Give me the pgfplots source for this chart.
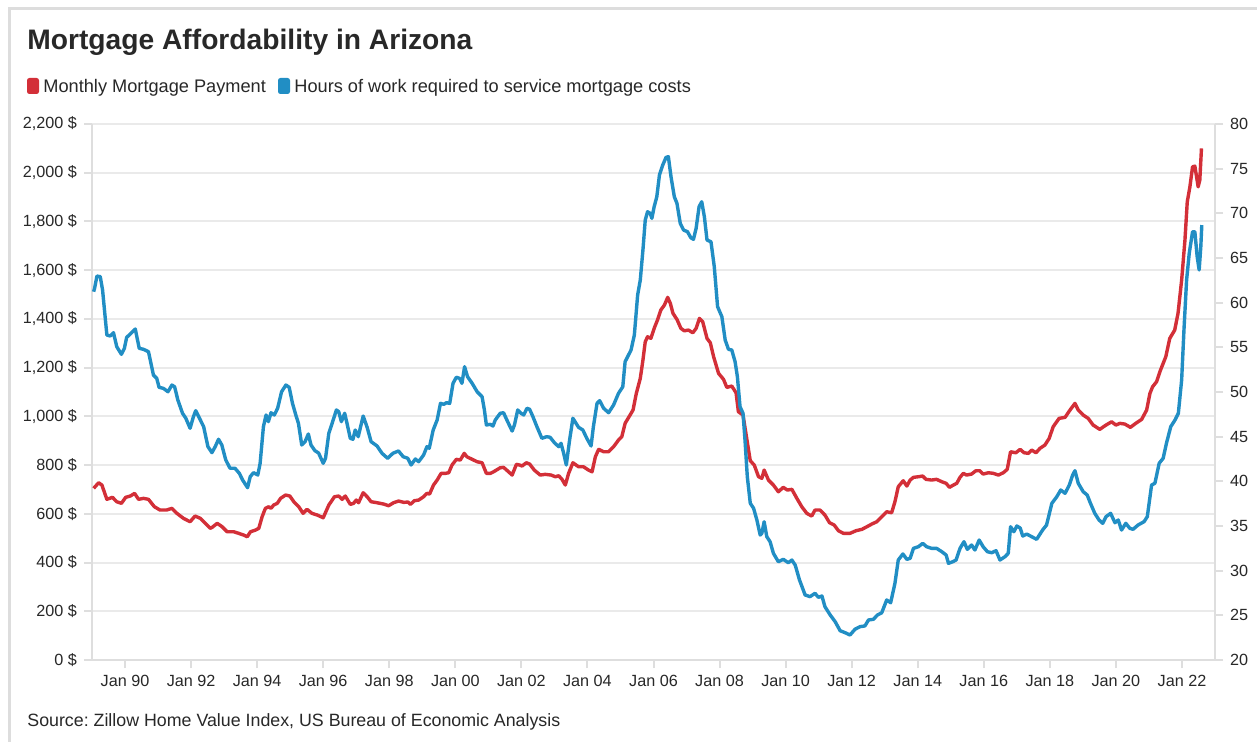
\documentclass[border=0pt]{standalone}
\usepackage{fontspec}
\setmainfont{Liberation Sans}
\usepackage{pgfplots}
\usepackage{pgfplotstable}
\pgfplotsset{compat=1.18}
\frenchspacing
\definecolor{cred}{RGB}{211,47,56}
\definecolor{cblue}{RGB}{33,142,196}
\definecolor{gridc}{RGB}{234,234,234}
\definecolor{axc}{RGB}{222,222,222}
\definecolor{txt}{RGB}{40,40,40}
\definecolor{frame}{RGB}{221,221,221}

% Monthly mortgage payment (USD)
\pgfplotstableread{
yr val
1989.05 704.6
1989.20 727.5
1989.30 718.1
1989.45 659.4
1989.62 667.6
1989.75 649.6
1989.89 643.0
1990.02 667.6
1990.16 673.0
1990.29 684.0
1990.41 659.4
1990.56 663.5
1990.71 659.4
1990.89 629.0
1991.06 615.5
1991.26 615.5
1991.42 622.5
1991.57 602.0
1991.77 581.4
1991.97 567.5
1992.12 590.9
1992.28 581.4
1992.43 560.9
1992.58 540.4
1992.64 544.5
1992.79 560.9
1992.94 547.0
1993.09 526.5
1993.29 526.5
1993.44 519.9
1993.59 512.9
1993.70 506.0
1993.80 526.5
1993.95 533.4
1994.05 540.4
1994.15 588.0
1994.25 622.5
1994.35 629.0
1994.42 622.5
1994.50 636.0
1994.61 643.0
1994.71 663.5
1994.86 677.1
1994.99 673.0
1995.11 649.6
1995.26 629.0
1995.39 602.0
1995.51 618.4
1995.66 602.0
1995.82 595.0
1996.00 583.9
1996.17 636.0
1996.34 670.1
1996.47 673.0
1996.57 659.4
1996.67 673.0
1996.82 638.9
1996.92 643.0
1997.00 656.5
1997.07 645.5
1997.21 686.5
1997.33 670.1
1997.45 649.6
1997.63 645.5
1997.83 640.1
1997.98 633.2
1998.13 645.5
1998.28 652.4
1998.44 647.1
1998.57 648.3
1998.64 638.9
1998.76 653.7
1998.89 656.5
1999.04 670.1
1999.14 684.0
1999.22 681.2
1999.34 718.1
1999.45 738.6
1999.57 766.1
1999.70 766.1
1999.80 768.6
1999.90 800.2
2000.03 823.6
2000.15 820.7
2000.27 848.2
2000.35 834.2
2000.51 823.6
2000.66 813.7
2000.81 809.6
2000.94 766.1
2001.06 766.1
2001.16 772.7
2001.36 789.1
2001.46 790.7
2001.61 772.7
2001.72 759.1
2001.85 803.1
2001.95 800.2
2002.02 796.1
2002.15 809.6
2002.25 804.3
2002.39 779.6
2002.57 759.1
2002.72 762.0
2002.90 759.1
2003.03 752.2
2003.13 756.3
2003.23 741.5
2003.33 718.1
2003.43 766.1
2003.56 809.6
2003.73 793.2
2003.88 793.2
2004.03 779.6
2004.14 772.7
2004.24 834.2
2004.34 864.6
2004.49 854.7
2004.64 854.7
2004.79 875.3
2004.94 902.7
2005.04 916.3
2005.14 971.3
2005.29 1005.3
2005.38 1025.9
2005.48 1094.4
2005.60 1155.9
2005.68 1231.0
2005.75 1306.1
2005.82 1326.6
2005.92 1320.1
2006.02 1361.1
2006.12 1395.2
2006.22 1436.2
2006.33 1456.7
2006.43 1488.3
2006.51 1463.7
2006.59 1422.6
2006.71 1398.0
2006.83 1361.1
2006.93 1351.3
2007.06 1354.1
2007.19 1343.0
2007.29 1361.1
2007.39 1402.1
2007.49 1388.2
2007.62 1320.1
2007.72 1302.0
2007.82 1244.6
2007.97 1176.4
2008.12 1151.8
2008.22 1119.0
2008.37 1124.3
2008.50 1096.8
2008.57 1018.9
2008.71 1005.3
2008.83 902.7
2008.93 817.8
2009.05 800.2
2009.18 752.2
2009.28 745.6
2009.35 779.6
2009.48 738.6
2009.63 718.1
2009.78 690.6
2009.93 708.7
2010.05 697.6
2010.19 700.4
2010.34 663.5
2010.49 629.0
2010.64 602.0
2010.79 590.9
2010.89 615.5
2011.04 615.5
2011.19 595.0
2011.33 563.4
2011.47 554.0
2011.60 530.6
2011.75 519.9
2011.95 519.9
2012.13 530.6
2012.31 536.3
2012.46 547.0
2012.61 558.1
2012.76 567.5
2012.91 588.0
2013.06 608.5
2013.21 604.4
2013.31 649.6
2013.41 711.1
2013.56 735.7
2013.67 714.0
2013.77 738.6
2013.87 749.7
2014.02 752.2
2014.15 755.0
2014.25 741.5
2014.42 738.6
2014.57 741.5
2014.73 731.6
2014.86 725.1
2014.96 708.7
2015.08 718.1
2015.18 725.1
2015.28 749.7
2015.38 766.1
2015.48 759.1
2015.63 763.2
2015.76 776.8
2015.88 776.8
2015.98 763.2
2016.14 768.6
2016.29 766.1
2016.44 759.1
2016.59 768.6
2016.71 782.5
2016.81 854.7
2016.97 850.6
2017.10 864.6
2017.22 850.6
2017.35 848.2
2017.45 861.7
2017.58 850.6
2017.70 868.7
2017.85 882.2
2017.98 909.7
2018.10 957.3
2018.28 991.8
2018.46 995.9
2018.61 1025.9
2018.76 1053.3
2018.86 1025.9
2019.01 1005.3
2019.16 991.8
2019.31 964.3
2019.51 946.7
2019.70 964.3
2019.87 977.8
2020.00 964.3
2020.12 971.3
2020.27 968.4
2020.44 954.9
2020.60 971.3
2020.78 987.7
2020.93 1025.9
2021.03 1094.4
2021.11 1121.5
2021.23 1142.0
2021.35 1190.0
2021.51 1244.6
2021.63 1320.1
2021.78 1354.1
2021.88 1422.6
2021.99 1559.3
2022.09 1723.4
2022.16 1880.6
2022.24 1942.2
2022.32 2024.2
2022.39 2027.1
2022.49 1942.2
2022.54 1969.6
2022.59 2099.7
}\paymenttable

% Hours of work required to service mortgage costs
\pgfplotstableread{
yr val
1989.05 61.23
1989.08 61.64
1989.15 62.98
1989.25 62.91
1989.32 61.42
1989.45 56.38
1989.55 56.27
1989.65 56.64
1989.75 55.07
1989.89 54.22
1989.98 54.89
1990.05 56.12
1990.16 56.49
1990.31 57.05
1990.43 54.89
1990.56 54.78
1990.71 54.51
1990.86 51.90
1990.96 51.53
1991.03 50.53
1991.16 50.41
1991.30 50.03
1991.42 50.78
1991.50 50.59
1991.60 49.10
1991.74 47.62
1991.84 47.06
1991.97 45.94
1992.07 47.23
1992.14 47.91
1992.28 46.87
1992.38 46.12
1992.51 43.88
1992.63 43.21
1992.73 43.88
1992.83 44.71
1992.93 44.07
1993.05 42.39
1993.18 41.46
1993.33 41.46
1993.46 40.90
1993.56 40.15
1993.71 39.29
1993.79 40.52
1993.89 40.97
1994.02 40.71
1994.09 42.02
1994.19 46.12
1994.27 47.43
1994.34 46.68
1994.42 47.68
1994.52 47.43
1994.62 48.18
1994.74 50.03
1994.87 50.78
1994.97 50.53
1995.07 48.73
1995.17 47.43
1995.25 46.50
1995.35 44.07
1995.45 44.44
1995.55 45.30
1995.63 44.07
1995.75 43.43
1995.86 43.17
1996.00 42.02
1996.07 42.58
1996.17 45.38
1996.27 46.50
1996.40 47.99
1996.47 47.79
1996.55 46.68
1996.65 47.62
1996.72 46.50
1996.82 44.82
1996.90 44.71
1996.97 45.75
1997.06 45.00
1997.21 47.31
1997.33 46.05
1997.45 44.44
1997.63 43.96
1997.78 43.14
1997.95 42.58
1998.11 43.14
1998.28 43.40
1998.42 42.76
1998.56 42.58
1998.66 41.83
1998.79 42.50
1998.89 42.20
1999.04 42.95
1999.14 43.88
1999.21 43.70
1999.33 45.75
1999.45 46.87
1999.55 48.73
1999.65 48.62
1999.73 48.80
1999.83 48.73
1999.93 50.97
2000.03 51.65
2000.13 51.53
2000.20 50.97
2000.28 52.83
2000.37 51.71
2000.51 50.97
2000.66 50.03
2000.81 49.47
2000.88 47.99
2000.94 46.31
2001.06 46.38
2001.14 46.19
2001.21 46.87
2001.36 47.62
2001.46 47.68
2001.56 46.87
2001.72 45.63
2001.79 46.31
2001.89 47.99
2001.99 47.62
2002.07 47.43
2002.17 48.18
2002.25 48.06
2002.35 47.23
2002.47 46.12
2002.62 44.82
2002.77 45.00
2002.87 44.93
2003.00 44.32
2003.13 43.88
2003.20 44.26
2003.28 43.14
2003.36 41.83
2003.46 44.63
2003.56 47.06
2003.73 46.05
2003.86 45.75
2003.98 44.82
2004.11 43.96
2004.18 46.12
2004.29 48.73
2004.37 49.03
2004.49 48.18
2004.64 47.68
2004.79 48.54
2004.94 49.85
2005.07 50.59
2005.14 53.39
2005.32 54.70
2005.42 56.38
2005.52 60.86
2005.60 62.54
2005.68 65.90
2005.75 69.25
2005.82 70.18
2005.90 70.00
2005.95 69.44
2006.02 70.74
2006.10 71.86
2006.18 74.29
2006.28 75.41
2006.38 76.27
2006.45 76.34
2006.53 74.10
2006.63 71.86
2006.71 71.12
2006.81 68.88
2006.91 68.13
2007.03 67.94
2007.13 67.27
2007.21 67.09
2007.29 68.32
2007.38 70.74
2007.46 71.30
2007.54 69.62
2007.62 67.01
2007.74 66.82
2007.84 64.03
2007.94 59.55
2008.07 58.43
2008.17 55.82
2008.27 54.78
2008.37 54.70
2008.47 53.39
2008.54 51.71
2008.62 48.35
2008.71 47.62
2008.77 44.63
2008.84 40.52
2008.93 37.54
2009.03 36.98
2009.13 35.67
2009.23 33.99
2009.28 34.18
2009.35 35.48
2009.43 33.80
2009.53 33.24
2009.63 31.94
2009.78 31.00
2009.93 31.27
2010.08 30.89
2010.19 31.19
2010.29 30.63
2010.42 28.96
2010.59 27.28
2010.74 27.09
2010.89 27.47
2010.99 27.02
2011.10 27.16
2011.19 25.97
2011.35 25.04
2011.50 24.29
2011.65 23.28
2011.80 23.06
2011.95 22.80
2012.10 23.44
2012.25 23.73
2012.40 23.81
2012.51 24.48
2012.66 24.56
2012.78 25.04
2012.91 25.29
2013.06 26.72
2013.18 26.41
2013.31 28.59
2013.41 31.19
2013.55 31.87
2013.67 31.27
2013.77 31.38
2013.87 32.50
2014.02 32.68
2014.15 33.06
2014.27 32.68
2014.42 32.50
2014.57 32.50
2014.73 32.12
2014.86 31.75
2014.93 30.82
2015.06 31.00
2015.16 31.19
2015.28 32.50
2015.40 33.24
2015.50 32.39
2015.63 32.87
2015.73 32.31
2015.86 33.43
2015.98 32.68
2016.11 32.12
2016.24 32.01
2016.37 32.24
2016.49 31.19
2016.64 31.56
2016.74 31.94
2016.81 34.92
2016.91 34.36
2017.00 35.00
2017.10 34.78
2017.18 33.88
2017.30 34.10
2017.45 33.80
2017.60 33.51
2017.78 34.55
2017.90 35.11
2018.06 37.54
2018.21 38.28
2018.33 39.03
2018.46 38.66
2018.59 39.59
2018.69 40.71
2018.76 41.19
2018.86 39.78
2019.01 38.84
2019.13 38.47
2019.23 37.54
2019.36 36.42
2019.49 35.67
2019.60 35.30
2019.70 36.04
2019.84 36.42
2019.97 35.37
2020.07 35.67
2020.17 34.55
2020.30 35.30
2020.42 34.74
2020.52 34.63
2020.67 35.11
2020.85 35.48
2020.95 36.04
2021.08 39.59
2021.18 39.78
2021.31 42.02
2021.43 42.58
2021.53 44.26
2021.66 46.12
2021.79 46.87
2021.89 47.62
2021.99 51.34
2022.06 56.94
2022.14 62.54
2022.22 65.53
2022.32 67.94
2022.39 67.94
2022.46 65.15
2022.52 63.66
2022.57 66.26
2022.60 68.69
}\hourstable

\pgfplotsset{
  base/.style={
    scale only axis, width=561.5pt, height=268pt,
    at={(46pt,-330pt)}, anchor=south west,
    xmin=1989, xmax=2023,
    tick align=outside, major tick length=4pt,
    tick style={draw=axc, line width=1pt},
    axis line style={draw=axc, line width=1pt},
    ticklabel style={font=\fontsize{8.1}{9.5}\selectfont, text=txt},
    /pgf/number format/assume math mode=true,
    clip=false,
  }
}

\begin{document}
\begin{tikzpicture}
\useasboundingbox (0,0) rectangle (628.5pt,-371pt);
\fill[white] (0,0) rectangle (628.5pt,-371pt);
\draw[frame, line width=1.5pt] (4.5pt,-371pt) -- (4.5pt,-4.5pt) -- (628.5pt,-4.5pt);

\node[anchor=base west, inner sep=0pt, text=txt, font=\fontsize{14.1}{16}\selectfont\bfseries] at (13.5pt,-25pt) {Mortgage Affordability in Arizona};

\fill[cred, rounded corners=1.2pt] (13.5pt,-39pt) rectangle (19.5pt,-47pt);
\node[anchor=base west, inner sep=0pt, text=txt, font=\fontsize{9.1}{11}\selectfont] at (21.5pt,-46.3pt) {Monthly Mortgage Payment};
\fill[cblue, rounded corners=1.2pt] (139pt,-39pt) rectangle (145pt,-47pt);
\node[anchor=base west, inner sep=0pt, text=txt, font=\fontsize{9.1}{11}\selectfont] at (147pt,-46.3pt) {Hours of work required to service mortgage costs};

\node[anchor=base west, inner sep=0pt, text=txt, font=\fontsize{8.9}{11}\selectfont] at (13.5pt,-363pt) {Source: Zillow Home Value Index, US Bureau of Economic Analysis};

\begin{axis}[base,
  ymin=0, ymax=2200,
  axis x line*=bottom, axis y line*=left,
  ytick={0,200,...,2200},
  yticklabel={\pgfmathprintnumber[1000 sep={,}]{\tick}~\$},
  ymajorgrids, grid style={draw=gridc, line width=1pt},
  xtick={1990,1992,...,2022},
  xticklabels={Jan 90,Jan 92,Jan 94,Jan 96,Jan 98,Jan 00,Jan 02,Jan 04,Jan 06,Jan 08,Jan 10,Jan 12,Jan 14,Jan 16,Jan 18,Jan 20,Jan 22},
]
\addplot[cred, line width=1.7pt, line join=round] table[x=yr, y=val] {\paymenttable};
\end{axis}

\begin{axis}[base,
  ymin=20, ymax=80,
  axis x line=none, axis y line*=right,
  ytick={20,25,...,80},
]
\addplot[cblue, line width=1.7pt, line join=round] table[x=yr, y=val] {\hourstable};
\end{axis}
\end{tikzpicture}
\end{document}
